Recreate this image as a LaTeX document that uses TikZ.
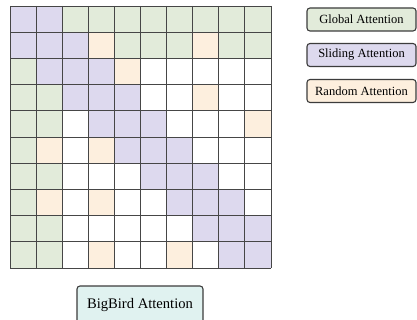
\documentclass[tikz,border=0pt]{standalone}
\usepackage{fontspec}
\setmainfont{Liberation Serif}
\definecolor{colG}{RGB}{226,235,218}
\definecolor{colS}{RGB}{221,217,238}
\definecolor{colR}{RGB}{253,239,222}
\definecolor{colW}{RGB}{255,255,255}
\definecolor{colB}{RGB}{224,242,240}
\definecolor{gridc}{RGB}{70,70,70}
\definecolor{boxc}{RGB}{60,60,60}
\tikzset{
  gridline/.style={draw=gridc, line width=0.9pt},
  legendbox/.style={draw=boxc, line width=1.1pt, rounded corners=3pt, minimum width=109pt, minimum height=23pt, inner sep=0pt, font=\fontsize{12.5}{14}\selectfont},
  titlebox/.style={draw=boxc, line width=1.1pt, rounded corners=3pt, minimum width=126pt, minimum height=38pt, inner sep=0pt, font=\fontsize{14.6}{17}\selectfont}
}
\begin{document}
\begin{tikzpicture}[x=1pt,y=-1pt]
\useasboundingbox (0,0) rectangle (417,320);
\clip (0,0) rectangle (417,320);
\fill[white] (0,0) rectangle (417,320);
\def\cw{26.1}
\def\ch{26.2}
\foreach \rowcodes [count=\i from 0] in {
  {S,S,G,G,G,G,G,G,G,G},
  {S,S,S,R,G,G,G,R,G,G},
  {G,S,S,S,R,W,W,W,W,W},
  {G,G,S,S,S,W,W,R,W,W},
  {G,G,W,S,S,S,W,W,W,R},
  {G,R,W,R,S,S,S,W,W,W},
  {G,G,W,W,W,S,S,S,W,W},
  {G,R,W,R,W,W,S,S,S,W},
  {G,G,W,W,W,W,W,S,S,S},
  {G,G,W,R,W,W,R,W,S,S}} {
  \foreach \c [count=\j from 0] in \rowcodes {
    \fill[fill=col\c] ({10+\j*\cw},{6+\i*\ch}) rectangle ++(\cw,\ch);
  }
}
\foreach \k in {0,...,10} {
  \draw[gridline] ({10+\k*\cw},6) -- ({10+\k*\cw},{6+10*\ch});
  \draw[gridline] (10,{6+\k*\ch}) -- ({10+10*\cw},{6+\k*\ch});
}
\node[legendbox, fill=colG] (global) at (361.5,19.5) {Global Attention};
\node[legendbox, fill=colS] (sliding) at (361.5,55) {Sliding Attention};
\node[legendbox, fill=colR] (random) at (361.5,91) {Random Attention};
\node[titlebox, fill=colB] (bigbird) at (140,305) {BigBird Attention};
\end{tikzpicture}
\end{document}
